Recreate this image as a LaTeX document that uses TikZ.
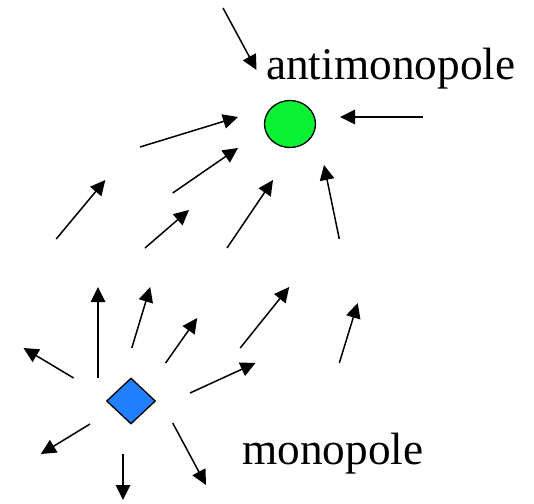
\documentclass[tikz,border=0pt]{standalone}
\usepackage{fontspec}
\setmainfont{Liberation Serif}
\usetikzlibrary{positioning,arrows.meta,shapes.geometric}
\definecolor{poleblue}{RGB}{32,128,255}
\definecolor{polegreen}{RGB}{10,240,50}

\begin{document}
\begin{tikzpicture}[x=1pt,y=-1pt,
  field/.style={-{Triangle[length=15pt,width=14.5pt]},line width=1.5pt},
  label/.style={font=\fontsize{45.3}{50}\selectfont,inner sep=0pt}]
\useasboundingbox (0,0) rectangle (534,503);
\node[draw,line width=1.3pt,fill=poleblue,diamond,inner sep=0pt,minimum width=49pt,minimum height=46pt] (mono) at (131,401) {};
\node[draw,line width=1.3pt,fill=polegreen,ellipse,inner sep=0pt,minimum width=51pt,minimum height=47pt] (anti) at (290,124) {};
\node[label,anchor=base west] (antilabel) at (266,79) {antimonopole};
\node[label,anchor=base west] (monolabel) at (242,464) {monopole};
% field lines
\foreach \xa/\ya/\xb/\yb [count=\n] in {223/8/256.5/70, 423/117/340/117, 140/147/238/117,
  172.7/193/238/148, 56.2/239/105.3/180, 145/248/189/210, 227/248/273/180, 339.3/239/324/165,
  98/378/98/287, 131.8/348/150.2/287, 165.6/363/197.2/318, 240.2/348/289.2/287, 339.3/363/357.7/303,
  73.6/378/23.5/348, 190/393/255.5/363, 90/424/40.9/454, 123/454/123/500, 172.7/423/206/485}
{
  \coordinate (t\n) at (\xa,\ya);
  \coordinate (h\n) at (\xb,\yb);
  \draw[field] (t\n) -- (h\n);
}
\end{tikzpicture}
\end{document}
